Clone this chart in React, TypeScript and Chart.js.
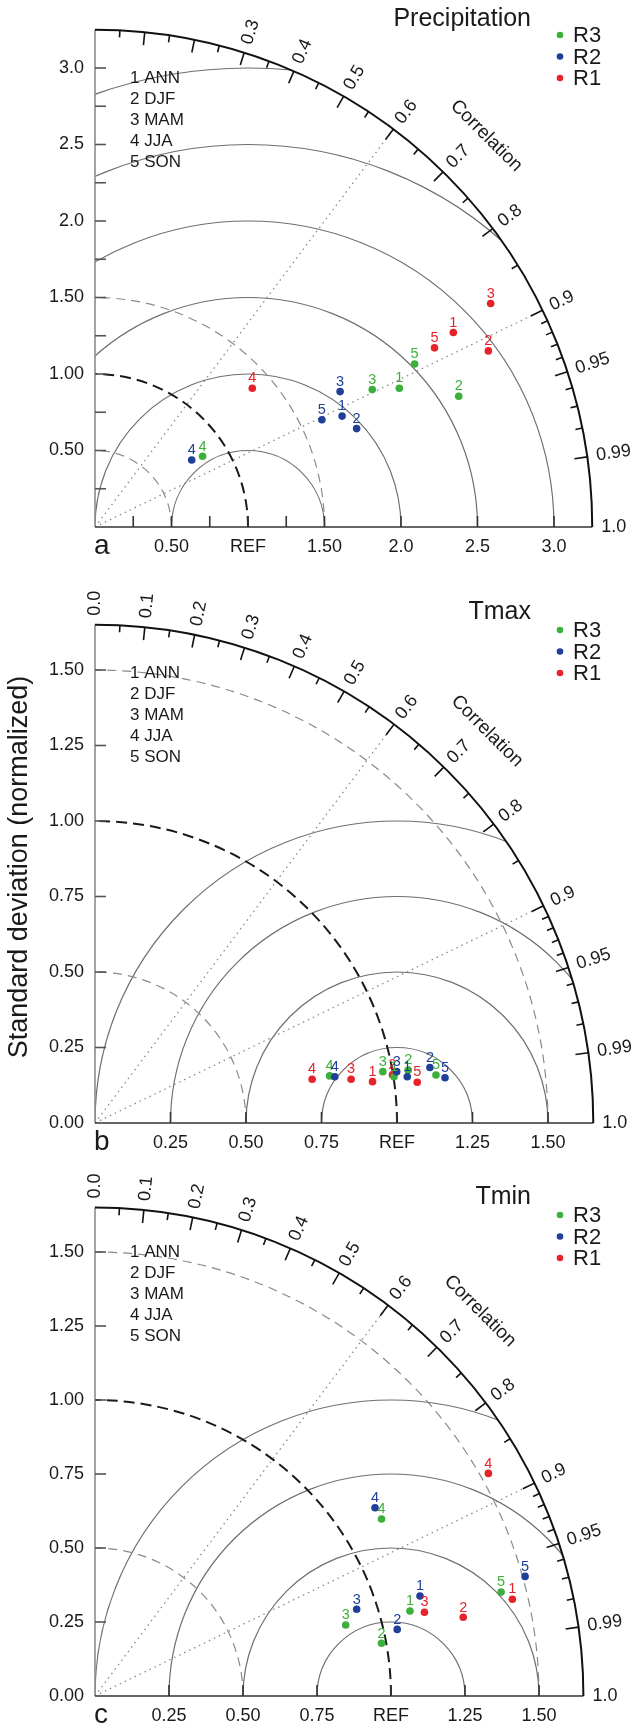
import { useEffect, useRef } from "react";
import Chart from "chart.js/auto";

const FONT = '"Liberation Sans", Arial, Helvetica, sans-serif';

// seasons and models
const seasonIds = ["1", "2", "3", "4", "5"];
const seasonNames = ["ANN", "DJF", "MAM", "JJA", "SON"];
const modelNames = ["R3", "R2", "R1"];
const modelColors = ["#3daf3b", "#1f3f98", "#e6222b"];

// correlation axis
const corrMajorTicks = [0.1, 0.2, 0.3, 0.4, 0.5, 0.6, 0.7, 0.8, 0.9, 0.95, 0.99];
const corrMinorTicks = [0.05, 0.15, 0.25, 0.35, 0.45, 0.55, 0.65, 0.75, 0.85, 0.91, 0.92, 0.93, 0.94, 0.96, 0.97, 0.98];
const corrLabelValues = [0.0, 0.1, 0.2, 0.3, 0.4, 0.5, 0.6, 0.7, 0.8, 0.9, 0.95, 0.99, 1.0];
const corrLabelTexts = ["0.0", "0.1", "0.2", "0.3", "0.4", "0.5", "0.6", "0.7", "0.8", "0.9", "0.95", "0.99", "1.0"];
const corrLines = [0.6, 0.9];

// Precipitation (x = sd*corr, y = sd*sin), seasons 1..5
const precipR1X = [2.342, 2.571, 2.586, 1.028, 2.219];
const precipR1Y = [1.271, 1.151, 1.461, 0.907, 1.171];
const precipR2X = [1.615, 1.71, 1.602, 0.632, 1.483];
const precipR2Y = [0.725, 0.643, 0.885, 0.438, 0.701];
const precipR3X = [1.989, 2.377, 1.812, 0.703, 2.089];
const precipR3Y = [0.907, 0.855, 0.898, 0.462, 1.065];

// Tmax
const tmaxR1X = [0.919, 0.985, 0.848, 0.719, 1.067];
const tmaxR1Y = [0.137, 0.16, 0.145, 0.145, 0.135];
const tmaxR2X = [1.034, 1.109, 0.999, 0.794, 1.159];
const tmaxR2Y = [0.153, 0.184, 0.17, 0.153, 0.15];
const tmaxR3X = [0.99, 1.037, 0.953, 0.777, 1.129];
const tmaxR3Y = [0.153, 0.175, 0.17, 0.156, 0.159];

// Tmin (no SON point for R1)
const tminR1X = [1.41, 1.244, 1.113, 1.329, null];
const tminR1Y = [0.327, 0.266, 0.283, 0.752, null];
const tminR2X = [1.098, 1.021, 0.884, 0.946, 1.453];
const tminR2Y = [0.338, 0.225, 0.293, 0.636, 0.404];
const tminR3X = [1.064, 0.968, 0.847, 0.968, 1.372];
const tminR3Y = [0.287, 0.178, 0.24, 0.598, 0.351];

// axis ticks
const precipYTicks = [0.25, 0.5, 0.75, 1.0, 1.25, 1.5, 1.75, 2.0, 2.25, 2.5, 2.75, 3.0];
const precipYLabelValues = [0.5, 1.0, 1.5, 2.0, 2.5, 3.0];
const precipYLabels = ["0.50", "1.00", "1.50", "2.0", "2.5", "3.0"];
const precipXTicks = [0.25, 0.5, 0.75, 1.0, 1.25, 1.5, 2.0, 2.5, 3.0];
const precipXLabelValues = [0.5, 1.0, 1.5, 2.0, 2.5, 3.0];
const precipXLabels = ["0.50", "REF", "1.50", "2.0", "2.5", "3.0"];
const precipRms = [0.5, 1.0, 1.5, 2.0, 2.5, 3.0];

const tempYTicks = [0.25, 0.5, 0.75, 1.0, 1.25, 1.5];
const tempYLabelValues = [0.0, 0.25, 0.5, 0.75, 1.0, 1.25, 1.5];
const tempYLabels = ["0.00", "0.25", "0.50", "0.75", "1.00", "1.25", "1.50"];
const tempXTicks = [0.25, 0.5, 0.75, 1.0, 1.25, 1.5];
const tempXLabelValues = [0.25, 0.5, 0.75, 1.0, 1.25, 1.5];
const tempXLabels = ["0.25", "0.50", "0.75", "REF", "1.25", "1.50"];
const tempRms = [0.25, 0.5, 0.75, 1.0];

const sdDashedGray = [0.5, 1.5];
const sdDashedBlack = 1.0;

function makeSeries(xs: any[], ys: any[]) {
  const out: any[] = [];
  xs.forEach((x, i) => {
    if (x == null) return;
    out.push({ x, y: ys[i], s: seasonIds[i] });
  });
  return out;
}

const panels = [
  {
    key: "a", title: "Precipitation", top: 0, height: 575, ox: 95, oy: 527, scale: 153, R: 3.25,
    series: [makeSeries(precipR3X, precipR3Y), makeSeries(precipR2X, precipR2Y), makeSeries(precipR1X, precipR1Y)],
    yTicks: precipYTicks, yLabelValues: precipYLabelValues, yLabels: precipYLabels,
    xTicks: precipXTicks, xLabelValues: precipXLabelValues, xLabels: precipXLabels, rms: precipRms,
    corrLabelFrom: 3, titleY: 19, legendY: 35, keyY: 78, yTitle: false,
  },
  {
    key: "b", title: "Tmax", top: 575, height: 585, ox: 95, oy: 548, scale: 302, R: 1.65,
    series: [makeSeries(tmaxR3X, tmaxR3Y), makeSeries(tmaxR2X, tmaxR2Y), makeSeries(tmaxR1X, tmaxR1Y)],
    yTicks: tempYTicks, yLabelValues: tempYLabelValues, yLabels: tempYLabels,
    xTicks: tempXTicks, xLabelValues: tempXLabelValues, xLabels: tempXLabels, rms: tempRms,
    corrLabelFrom: 0, titleY: 37, legendY: 55, keyY: 98, yTitle: true,
  },
  {
    key: "c", title: "Tmin", top: 1160, height: 564, ox: 95, oy: 536, scale: 296, R: 1.65,
    series: [makeSeries(tminR3X, tminR3Y), makeSeries(tminR2X, tminR2Y), makeSeries(tminR1X, tminR1Y)],
    yTicks: tempYTicks, yLabelValues: tempYLabelValues, yLabels: tempYLabels,
    xTicks: tempXTicks, xLabelValues: tempXLabelValues, xLabels: tempXLabels, rms: tempRms,
    corrLabelFrom: 0, titleY: 37, legendY: 55, keyY: 92, yTitle: false,
  },
];

function makeTaylorPlugin(p: any) {
  return {
    id: "taylor" + p.key,
    beforeDatasetsDraw(chart: any) {
      const ctx = chart.ctx;
      const xs = chart.scales.x;
      const ys = chart.scales.y;
      const X = (v: number) => xs.getPixelForValue(v);
      const Y = (v: number) => ys.getPixelForValue(v);
      const ox = X(0);
      const oy = Y(0);
      const rx = (r: number) => X(r) - ox;
      const ry = (r: number) => oy - Y(r);
      const R = p.R;

      ctx.save();
      ctx.beginPath();
      ctx.moveTo(ox, oy);
      ctx.ellipse(ox, oy, rx(R), ry(R), 0, 0, -Math.PI / 2, true);
      ctx.closePath();
      ctx.clip();

      // centred RMS circles around REF
      ctx.strokeStyle = "#6f6f6f";
      ctx.lineWidth = 1.2;
      ctx.setLineDash([]);
      p.rms.forEach((r: number) => {
        ctx.beginPath();
        ctx.ellipse(X(1), oy, rx(r), ry(r), 0, 0, -Math.PI, true);
        ctx.stroke();
      });

      // standard deviation arcs
      ctx.strokeStyle = "#8a8a8a";
      ctx.lineWidth = 1.2;
      ctx.setLineDash([9, 6]);
      sdDashedGray.forEach((r) => {
        ctx.beginPath();
        ctx.ellipse(ox, oy, rx(r), ry(r), 0, 0, -Math.PI / 2, true);
        ctx.stroke();
      });
      ctx.strokeStyle = "#1a1a1a";
      ctx.lineWidth = 2;
      ctx.setLineDash([11, 6]);
      ctx.beginPath();
      ctx.ellipse(ox, oy, rx(sdDashedBlack), ry(sdDashedBlack), 0, 0, -Math.PI / 2, true);
      ctx.stroke();

      // correlation lines
      ctx.strokeStyle = "#8a8a8a";
      ctx.lineWidth = 1.3;
      ctx.setLineDash([1.5, 4]);
      corrLines.forEach((c) => {
        ctx.beginPath();
        ctx.moveTo(ox, oy);
        ctx.lineTo(X(R * c), Y(R * Math.sqrt(1 - c * c)));
        ctx.stroke();
      });
      ctx.restore();

      ctx.save();
      ctx.setLineDash([]);
      // axes
      ctx.strokeStyle = "#8c8c8c";
      ctx.lineWidth = 1.6;
      ctx.beginPath();
      ctx.moveTo(ox, oy);
      ctx.lineTo(ox, Y(R));
      ctx.stroke();
      ctx.strokeStyle = "#333";
      ctx.beginPath();
      ctx.moveTo(ox, oy);
      ctx.lineTo(X(R), oy);
      ctx.stroke();
      // outer arc
      ctx.strokeStyle = "#111";
      ctx.lineWidth = 2;
      ctx.beginPath();
      ctx.ellipse(ox, oy, rx(R), ry(R), 0, 0, -Math.PI / 2, true);
      ctx.stroke();

      const radial = (c: number) => {
        const s = Math.sqrt(1 - c * c);
        const px = X(R * c);
        const py = Y(R * s);
        const dx = px - ox;
        const dy = py - oy;
        const len = Math.hypot(dx, dy);
        return { px, py, ux: dx / len, uy: dy / len };
      };
      const tick = (c: number, L: number) => {
        const t = radial(c);
        ctx.beginPath();
        ctx.moveTo(t.px, t.py);
        ctx.lineTo(t.px - t.ux * L, t.py - t.uy * L);
        ctx.stroke();
      };
      ctx.lineWidth = 1.6;
      corrMajorTicks.forEach((c) => tick(c, 13));
      corrMinorTicks.forEach((c) => tick(c, 7));

      // axis ticks (inward)
      ctx.strokeStyle = "#555";
      p.yTicks.forEach((v: number) => {
        ctx.beginPath();
        ctx.moveTo(ox, Y(v));
        ctx.lineTo(ox + 11, Y(v));
        ctx.stroke();
      });
      ctx.strokeStyle = "#333";
      p.xTicks.forEach((v: number) => {
        ctx.beginPath();
        ctx.moveTo(X(v), oy);
        ctx.lineTo(X(v), oy - 11);
        ctx.stroke();
      });

      // tick labels
      ctx.fillStyle = "#1a1a1a";
      ctx.font = "18px " + FONT;
      ctx.textAlign = "right";
      ctx.textBaseline = "middle";
      p.yLabelValues.forEach((v: number, i: number) => {
        ctx.fillText(p.yLabels[i], ox - 11, Y(v));
      });
      ctx.textAlign = "center";
      p.xLabelValues.forEach((v: number, i: number) => {
        ctx.fillText(p.xLabels[i], X(v), oy + 20);
      });

      // correlation labels
      ctx.textAlign = "left";
      corrLabelValues.forEach((c, i) => {
        if (i < p.corrLabelFrom) return;
        const t = radial(c);
        ctx.save();
        ctx.translate(t.px + t.ux * 9, t.py + t.uy * 9);
        ctx.rotate(Math.atan2(t.uy, t.ux));
        ctx.fillText(corrLabelTexts[i], 0, 0);
        ctx.restore();
      });
      // "Correlation" caption along the arc
      {
        const t = radial(Math.cos(Math.PI / 4));
        ctx.save();
        ctx.translate(t.px + t.ux * 56, t.py + t.uy * 56);
        ctx.rotate(Math.atan2(t.uy, t.ux) + Math.PI / 2);
        ctx.font = "19px " + FONT;
        ctx.textAlign = "center";
        ctx.fillText("Correlation", 0, 0);
        ctx.restore();
      }

      // panel letter
      ctx.font = "28px " + FONT;
      ctx.textAlign = "left";
      ctx.fillText(p.key, ox - 1, oy + 19);

      // title
      ctx.font = "25px " + FONT;
      ctx.textAlign = "right";
      ctx.fillText(p.title, 531, p.titleY);

      // legend
      ctx.font = "22px " + FONT;
      ctx.textAlign = "left";
      modelNames.forEach((m, i) => {
        const y = p.legendY + i * 21.5;
        ctx.fillStyle = modelColors[i];
        ctx.beginPath();
        ctx.arc(560, y, 3.3, 0, Math.PI * 2);
        ctx.fill();
        ctx.fillStyle = "#1a1a1a";
        ctx.fillText(m, 573, y + 1);
      });

      // season key
      ctx.font = "17px " + FONT;
      seasonNames.forEach((s, i) => {
        ctx.fillText(seasonIds[i] + " " + s, 130, p.keyY + i * 21);
      });

      if (p.yTitle) {
        ctx.save();
        ctx.translate(20, 292);
        ctx.rotate(-Math.PI / 2);
        ctx.font = "27px " + FONT;
        ctx.textAlign = "center";
        ctx.fillText("Standard deviation (normalized)", 0, 0);
        ctx.restore();
      }
      ctx.restore();
    },
    afterDatasetsDraw(chart: any) {
      const ctx = chart.ctx;
      ctx.save();
      ctx.font = "14.5px " + FONT;
      ctx.textAlign = "center";
      ctx.textBaseline = "bottom";
      for (let i = chart.data.datasets.length - 1; i >= 0; i--) {
        const ds = chart.data.datasets[i];
        const meta = chart.getDatasetMeta(i);
        ctx.fillStyle = ds.backgroundColor;
        meta.data.forEach((el: any, j: number) => {
          ctx.fillText(ds.data[j].s, el.x, el.y - 2.5);
        });
      }
      ctx.restore();
    },
  };
}

function TaylorPanel({ p }: { p: any }) {
  const canvasRef = useRef<HTMLCanvasElement>(null);
  const chartRef = useRef<Chart | null>(null);

  useEffect(() => {
    if (!canvasRef.current) return;
    if (chartRef.current) chartRef.current.destroy();
    const rPx = p.R * p.scale;
    // draw order: R2 on top, then R3, then R1
    const order = [1, 0, 2];
    chartRef.current = new Chart(canvasRef.current, {
      type: "scatter",
      data: {
        datasets: order.map((k) => ({
          label: modelNames[k],
          data: p.series[k],
          backgroundColor: modelColors[k],
          borderColor: modelColors[k],
          pointRadius: 3.8,
          borderWidth: 0,
        })),
      },
      options: {
        responsive: false,
        animation: false,
        events: [],
        layout: {
          padding: {
            left: p.ox,
            right: 640 - p.ox - rPx,
            top: p.oy - rPx,
            bottom: p.height - p.oy,
          },
        },
        scales: {
          x: { type: "linear", display: false, min: 0, max: p.R },
          y: { type: "linear", display: false, min: 0, max: p.R },
        },
        plugins: { legend: { display: false }, tooltip: { enabled: false } },
      },
      plugins: [makeTaylorPlugin(p)],
    } as any);
    return () => {
      if (chartRef.current) {
        chartRef.current.destroy();
        chartRef.current = null;
      }
    };
  }, [p]);

  return (
    <canvas
      ref={canvasRef}
      width={640}
      height={p.height}
      style={{ position: "absolute", left: 0, top: p.top, width: 640, height: p.height }}
    />
  );
}

export default function App() {
  return (
    <div style={{ position: "absolute", left: 0, top: 0, width: 640, height: 1724, background: "#fff", overflow: "hidden" }}>
      {panels.map((p) => (
        <TaylorPanel key={p.key} p={p} />
      ))}
    </div>
  );
}
